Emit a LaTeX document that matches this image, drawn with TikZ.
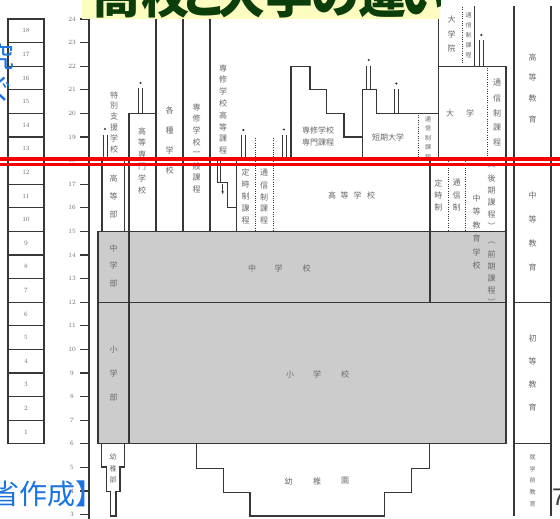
\documentclass[tikz,border=0pt]{standalone}
\usepackage{fontspec}
\usetikzlibrary{arrows.meta}
\newfontfamily\jp{Noto Sans CJK JP}
\newfontfamily\pgnum{Liberation Sans}
\definecolor{lncol}{RGB}{55,55,55}
\definecolor{txt}{RGB}{105,105,105}
\definecolor{grayfill}{RGB}{204,204,204}
\definecolor{ttlbg}{RGB}{253,253,192}
\definecolor{ttlfg}{RGB}{12,62,12}
\definecolor{blu}{RGB}{25,115,225}
\definecolor{redl}{RGB}{245,0,0}
\tikzset{
  ln/.style={draw=lncol,line width=1.2pt},
  thinln/.style={draw=lncol,line width=0.8pt},
  dotln/.style={draw=lncol,line width=1pt,dash pattern=on 1pt off 1.3pt},
  lbl/.style={text=txt,font=\jp\fontsize{8}{8}\selectfont,inner sep=0pt},
  smalllbl/.style={text=txt,font=\jp\fontsize{6}{6}\selectfont,inner sep=0pt},
  num/.style={text=txt,font=\fontsize{6.5}{6.5}\selectfont,inner sep=0pt},
  ttl/.style={text=ttlfg,font=\jp\bfseries\fontsize{48}{48}\selectfont,inner sep=0pt,anchor=base},
}
\newcommand\vtxt[5][lbl]{\foreach \ch [count=\k] in {#5}{\node[#1] at (#2,{#3+(\k-1)*#4}) {\ch};}}
\newcommand\spmk[4]{\fill[lncol] (#1,#2) circle (1.2); \draw[thinln] (#1-2,#3)--(#1-2,#4) (#1+2,#3)--(#1+2,#4);}
\begin{document}
\begin{tikzpicture}[x=1pt,y=-1pt]
\useasboundingbox (0,0) rectangle (560,519);
\clip (0,0) rectangle (560,519);
\fill[white] (0,0) rectangle (560,519);

% gray region
\fill[grayfill] (98,231.4) rectangle (506,443.8);

% grade column
\foreach \n in {1,...,18} {
  \pgfmathsetmacro\yt{19+(18-\n)*23.6}
  \pgfmathsetmacro\yb{\yt+23.6}
  \draw[ln] (8,\yt) rectangle (44,\yb);
  \node[num] (g\n) at (26,{(\yt+\yb)/2}) {\n};
}
% age axis
\draw[ln] (89,19) -- (89,519);
\foreach \a in {3,...,24} {
  \pgfmathsetmacro\yy{19+(24-\a)*23.6}
  \draw[ln] (80,\yy) -- (89,\yy);
  \node[num] (a\a) at (72,\yy) {\a};
}

% special support school
\vtxt{114}{95}{10.8}{特,別,支,援,学,校}
\spmk{105}{129}{135}{160.6}
\draw[ln] (102,231.4) -- (102,160.6) -- (124.5,160.6) -- (124.5,231.4);
\vtxt{113.5}{178}{18}{高,等,部}
\vtxt{113.5}{248}{17.5}{中,学,部}
\vtxt{113.5}{350}{23.5}{小,学,部}

% kosen
\draw[ln] (129,443.8) -- (129,113.4) -- (156,113.4);
\draw[ln] (156,19) -- (156,231.4);
\spmk{140.5}{83}{88}{113.4}
\vtxt{142}{131}{11.8}{高,等,専,門,学,校}
% kakushu
\draw[ln] (183,19) -- (183,231.4);
\draw[ln] (210,19) -- (210,231.4);
\vtxt{169.5}{110}{20}{各,種,学,校}
\vtxt{196.5}{107}{11.8}{専,修,学,校,一,般,課,程}
% senshu koto
\vtxt{223}{68}{11.8}{専,修,学,校,高,等,課,程}
\draw[thinln] (220,160.6) -- (220,182);
\draw[thinln] (217.5,160.6) -- (217.5,182) -- (227.5,182) -- (227.5,207.5) -- (236.5,207.5);
\draw[thinln,-{Stealth[length=3pt,width=2.5pt]}] (222.7,184) -- (222.7,194);

% high school parts
\draw[ln] (236.5,160.6) -- (236.5,231.4);
\draw[ln] (236.5,160.6) -- (506,160.6);
\spmk{243.3}{130}{135}{160.6}
\vtxt{245.5}{172}{12.2}{定,時,制,課,程}
\draw[dotln] (255,138) -- (255,231.4);
\draw[dotln] (273,138) -- (273,231.4);
\vtxt{264}{173}{12}{通,信,制,課,程}
\spmk{284}{129.5}{135}{160.6}
\node[lbl] (kk1) at (332,195) {高};
\node[lbl] (kk2) at (344.5,195) {等};
\node[lbl] (kk3) at (357.5,195) {学};
\node[lbl] (kk4) at (371,195) {校};

% senmon / tandai
\draw[ln] (291,160.6) -- (291,66.2) -- (310,66.2) -- (310,89.8) -- (326.7,89.8) -- (326.7,113.4) -- (344,113.4) -- (344,137) -- (362.3,137);
\draw[ln] (362.3,160.6) -- (362.3,89.8) -- (376.7,89.8) -- (376.7,113.4) -- (438.5,113.4);
\node[lbl] (sm1) at (318,130) {専修学校};
\node[lbl] (sm2) at (318,142) {専門課程};
\node[lbl] (td) at (388,137) {短期大学};
\spmk{368.7}{60}{66}{89.8}
\spmk{396.3}{83.5}{89.5}{113.4}
\draw[dotln] (418.3,115) -- (418.3,160.6);
\vtxt[smalllbl]{428}{119}{9.5}{通,信,制,課,程}

% university
\draw[ln] (438.5,19) -- (438.5,160.6);
\draw[ln] (438.5,66.2) -- (506,66.2) -- (506,443.8);
\draw[ln] (474.3,6) -- (474.3,66.2);
\draw[dotln] (462.7,7) -- (462.7,63);
\vtxt{451.5}{19.5}{14.5}{大,学,院}
\vtxt[smalllbl]{468.7}{15}{10}{通,信,制,課,程}
\spmk{481.3}{35}{40}{66.2}
\node[lbl] (dg1) at (450,113) {大};
\node[lbl] (dg2) at (470,113) {学};
\draw[dotln] (487.3,68) -- (487.3,160.6);
\vtxt{497}{83}{15}{通,信,制,課,程}

% secondary education school
\draw[ln] (430,160.6) -- (430,302.2);
\draw[dotln] (448.3,160.6) -- (448.3,231.4);
\draw[dotln] (465,160.6) -- (465,231.4);
\vtxt{438.3}{183}{12}{定,時,制}
\vtxt{456.7}{183}{12}{通,信,制}
\vtxt{476.7}{198}{13.5}{中,等,教,育,学,校}
\vtxt{491.7}{167}{11.8}{︵,後,期,課,程,︶}
\vtxt{491.7}{243}{11.8}{︵,前,期,課,程,︶}

% gray region lines
\draw[ln] (98,231.4) -- (506,231.4);
\draw[ln] (98,302.2) -- (506,302.2);
\draw[ln] (98,443.8) -- (506,443.8);
\draw[ln] (98,231.4) -- (98,443.8);
\node[lbl] (c1) at (252,268) {中};
\node[lbl] (c2) at (278.5,268) {学};
\node[lbl] (c3) at (306.5,268) {校};
\node[lbl] (s1) at (290,374.5) {小};
\node[lbl] (s2) at (317,374.5) {学};
\node[lbl] (s3) at (345,374.5) {校};

% kindergarten
\draw[ln] (101.7,443.8) -- (101.7,467) -- (106.7,467) -- (106.7,491.5) -- (110.7,491.5) -- (110.7,516) -- (116,516) -- (116,491.5) -- (120,491.5) -- (120,467) -- (124.3,467) -- (124.3,443.8);
\node[smalllbl,font=\jp\fontsize{7}{7}\selectfont] (y1) at (113,457) {幼};
\node[smalllbl,font=\jp\fontsize{7}{7}\selectfont] (y2) at (113,468.5) {稚};
\node[smalllbl,font=\jp\fontsize{7}{7}\selectfont] (y3) at (113,480) {部};
\draw[ln] (196.7,443.8) -- (196.7,468.3) -- (223.3,468.3) -- (223.3,492.7) -- (250,492.7) -- (250,516) -- (384.3,516) -- (384.3,492.7) -- (411.7,492.7) -- (411.7,468.3) -- (429.3,468.3) -- (429.3,443.8);
\node[lbl] (k1) at (288.5,481) {幼};
\node[lbl] (k2) at (317,481) {稚};
\node[lbl] (k3) at (345,481) {園};

% right column
\draw[ln] (514,6) -- (514,516);
\draw[ln] (551,6) -- (551,516);
\draw[ln] (514,160.6) -- (551,160.6);
\draw[ln] (514,302.2) -- (551,302.2);
\draw[ln] (514,443.8) -- (551,443.8);
\vtxt{532.5}{57}{20.7}{高,等,教,育}
\vtxt{532.5}{195}{24}{中,等,教,育}
\vtxt{532.5}{338}{23.3}{初,等,教,育}
\vtxt[smalllbl]{532.5}{457}{11.8}{就,学,前,教,育}

% title
\fill[ttlbg] (82,-5) rectangle (440,19.5);
\begin{scope}
\clip (82,-5) rectangle (440,19.5);
\node[ttl] (t1) at (116,14) {高};
\node[ttl] (t2) at (165,14) {校};
\node[ttl] (t3) at (203,14) {と};
\node[ttl] (t4) at (241,14) {大};
\node[ttl] (t5) at (289,14) {学};
\node[ttl] (t6) at (335,14) {の};
\node[ttl] (t7) at (382,14) {違};
\node[ttl] (t8) at (423,14) {い};
\end{scope}

% red lines
\draw[redl,line width=4.3pt] (0,158.8) -- (560,158.8);
\draw[redl,line width=3pt] (0,164.2) -- (560,164.2);

% blue partial text
\node[text=blu,font=\jp\fontsize{28}{28}\selectfont,inner sep=0pt,anchor=base west] (src) at (-8.5,504.5) {省作成】};
\node[text=blu,font=\jp\fontsize{28}{28}\selectfont,inner sep=0pt] (bl1) at (1,57) {究};
\node[text=blu,font=\jp\fontsize{28}{28}\selectfont,inner sep=0pt] (bl2) at (1,89) {ぐ};
% page number
\node[text=black!75,font=\pgnum\fontsize{24}{24}\selectfont,inner sep=0pt,anchor=base west] (pg) at (552,505) {7};
\end{tikzpicture}
\end{document}
